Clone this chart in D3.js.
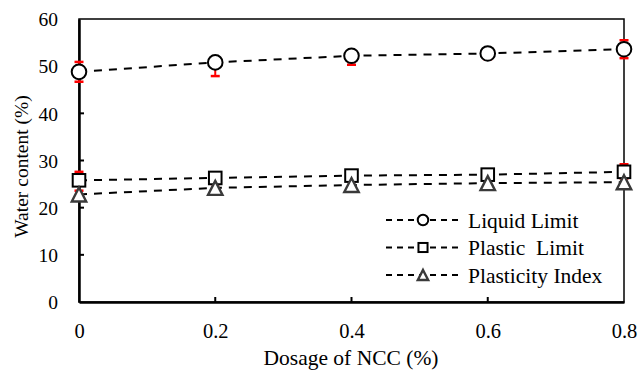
<!DOCTYPE html>
<html>
<head>
<meta charset="utf-8">
<script src="https://cdn.jsdelivr.net/npm/d3@7"></script>
<style>
  html, body { margin: 0; padding: 0; background: #fff; }
  svg { display: block; }
</style>
</head>
<body>
<svg id="chart" width="639" height="379"></svg>
<script>
// NCC dosage (%) on the x axis
const dosage = [0, 0.2, 0.4, 0.6, 0.8];

// Atterberg limits (water content, %)
const liquidLimit = [48.8, 50.8, 52.2, 52.7, 53.6];
const plasticLimit = [25.8, 26.3, 26.8, 27.0, 27.6];
const plasticityIndex = [22.8, 24.2, 24.8, 25.2, 25.4];

// Error bar extents (above / below the mean)
const liquidErrUp = [2.1, 0.8, 0.8, 1.0, 1.9];
const liquidErrDown = [2.1, 2.9, 1.9, 1.2, 1.9];
const plasticErrUp = [1.8, 1.0, 0.9, 0.9, 1.6];
const plasticErrDown = [1.0, 1.0, 0.9, 0.9, 1.0];
const indexErrUp = [0.8, 0.8, 0.8, 0.8, 0.8];
const indexErrDown = [0.8, 0.8, 0.8, 0.8, 0.8];

const xTicks = [0, 0.2, 0.4, 0.6, 0.8];
const xTickLabels = ["0", "0.2", "0.4", "0.6", "0.8"];
const yTicks = [0, 10, 20, 30, 40, 50, 60];

const seriesNames = ["Liquid Limit", "Plastic  Limit", "Plasticity Index"];

const FONT = '"Liberation Serif", "Times New Roman", serif';

const svg = d3.select("#chart");
const margin = { left: 79, right: 15, top: 19, bottom: 77 };
const W = 639, H = 379;
const x = d3.scaleLinear().domain([0, 0.8]).range([margin.left, W - margin.right]);
const y = d3.scaleLinear().domain([0, 60]).range([H - margin.bottom, margin.top]);

// Frame: top and right thin, left and bottom heavier
svg.append("rect")
  .attr("x", x(0)).attr("y", y(60))
  .attr("width", x(0.8) - x(0)).attr("height", y(0) - y(60))
  .attr("fill", "none").attr("stroke", "#000").attr("stroke-width", 1.5);

// Y axis (ticks pointing inward)
const yAxis = d3.axisLeft(y).tickValues(yTicks).tickSize(0).tickPadding(22).tickFormat(d3.format("d"));
const gy = svg.append("g").attr("transform", `translate(${x(0)},0)`).call(yAxis)
  .attr("font-family", FONT);
gy.select(".domain").attr("stroke", "#000").attr("stroke-width", 2.5);
gy.selectAll(".tick text").style("font-family", FONT).style("font-size", "19.5px")
  .attr("fill", "#000").attr("dy", "0.35em").attr("x", -21);
svg.append("g").selectAll("line").data(yTicks.filter(d => d > 0 && d < 60)).join("line")
  .attr("x1", x(0)).attr("x2", x(0) + 5)
  .attr("y1", d => y(d)).attr("y2", d => y(d))
  .attr("stroke", "#000").attr("stroke-width", 2);

// X axis (ticks pointing inward)
const xAxis = d3.axisBottom(x).tickValues(xTicks).tickSize(0).tickPadding(21)
  .tickFormat((d, i) => xTickLabels[i]);
const gx = svg.append("g").attr("transform", `translate(0,${y(0)})`).call(xAxis)
  .attr("font-family", FONT);
gx.select(".domain").attr("stroke", "#000").attr("stroke-width", 2.5);
gx.selectAll(".tick text").style("font-family", FONT).style("font-size", "20.5px").attr("fill", "#000");
svg.append("g").selectAll("line").data(xTicks.filter(d => d > 0 && d < 0.8)).join("line")
  .attr("x1", d => x(d)).attr("x2", d => x(d))
  .attr("y1", y(0)).attr("y2", y(0) - 5)
  .attr("stroke", "#000").attr("stroke-width", 2);

// Axis titles
svg.append("text")
  .attr("x", 351).attr("y", 365)
  .attr("text-anchor", "middle").style("font-family", FONT).style("font-size", "21.5px")
  .text("Dosage of NCC (%)");
svg.append("text")
  .attr("transform", `translate(28,${(y(0) + y(60)) / 2 + 6}) rotate(-90)`)
  .attr("text-anchor", "middle").style("font-family", FONT).style("font-size", "19.5px")
  .text("Water content (%)");

const series = [
  { name: seriesNames[0], vals: liquidLimit, up: liquidErrUp, down: liquidErrDown, shape: "circle", color: "#000" },
  { name: seriesNames[1], vals: plasticLimit, up: plasticErrUp, down: plasticErrDown, shape: "square", color: "#000" },
  { name: seriesNames[2], vals: plasticityIndex, up: indexErrUp, down: indexErrDown, shape: "triangle", color: "#3a3a3a" }
];

function drawMarker(g, shape, cx, cy, s, color) {
  if (shape === "circle") {
    g.append("circle").attr("cx", cx).attr("cy", cy).attr("r", 7.3 * s)
      .attr("fill", "#fff").attr("stroke", color).attr("stroke-width", 2);
  } else if (shape === "square") {
    const h = 6.3 * s;
    g.append("rect").attr("x", cx - h).attr("y", cy - h).attr("width", 2 * h).attr("height", 2 * h)
      .attr("fill", "#fff").attr("stroke", color).attr("stroke-width", 2);
  } else {
    const w = 7.2 * s, hh = 7 * s;
    g.append("path")
      .attr("d", `M${cx},${cy - hh}L${cx + w},${cy + hh}L${cx - w},${cy + hh}Z`)
      .attr("fill", "#fff").attr("stroke", color).attr("stroke-width", 2.4).attr("stroke-linejoin", "miter");
  }
}

const line = d3.line().x((d, i) => x(dosage[i])).y(d => y(d));

// Dashed connecting lines
series.forEach(s => {
  svg.append("path").datum(s.vals).attr("d", line)
    .attr("fill", "none").attr("stroke", "#000").attr("stroke-width", 2)
    .attr("stroke-dasharray", "8,7");
});

// Red error bars
series.forEach(s => {
  const g = svg.append("g");
  s.vals.forEach((v, i) => {
    const cx = x(dosage[i]);
    const top = y(v + s.up[i]), bot = y(v - s.down[i]);
    g.append("line").attr("x1", cx).attr("x2", cx).attr("y1", top).attr("y2", bot)
      .attr("stroke", "#ff0000").attr("stroke-width", 2);
    [top, bot].forEach(yy => g.append("line")
      .attr("x1", cx - 4.5).attr("x2", cx + 4.5).attr("y1", yy).attr("y2", yy)
      .attr("stroke", "#ff0000").attr("stroke-width", 2.5));
  });
});

// Markers
series.forEach(s => {
  const g = svg.append("g");
  s.vals.forEach((v, i) => drawMarker(g, s.shape, x(dosage[i]), y(v), 1, s.color));
});

// Legend
const legend = svg.append("g");
series.forEach((s, i) => {
  const ly = 220 + i * 27.5;
  legend.append("line").attr("x1", 386).attr("x2", 458).attr("y1", ly).attr("y2", ly)
    .attr("stroke", "#000").attr("stroke-width", 2).attr("stroke-dasharray", "6,5");
  drawMarker(legend, s.shape, 423, ly, 0.72, s.color);
  legend.append("text").attr("x", 468).attr("y", ly).attr("dy", "0.35em")
    .style("font-family", FONT).style("font-size", "21.5px").attr("fill", "#000")
    .style("white-space", "pre").text(s.name);
});
</script>
</body>
</html>
